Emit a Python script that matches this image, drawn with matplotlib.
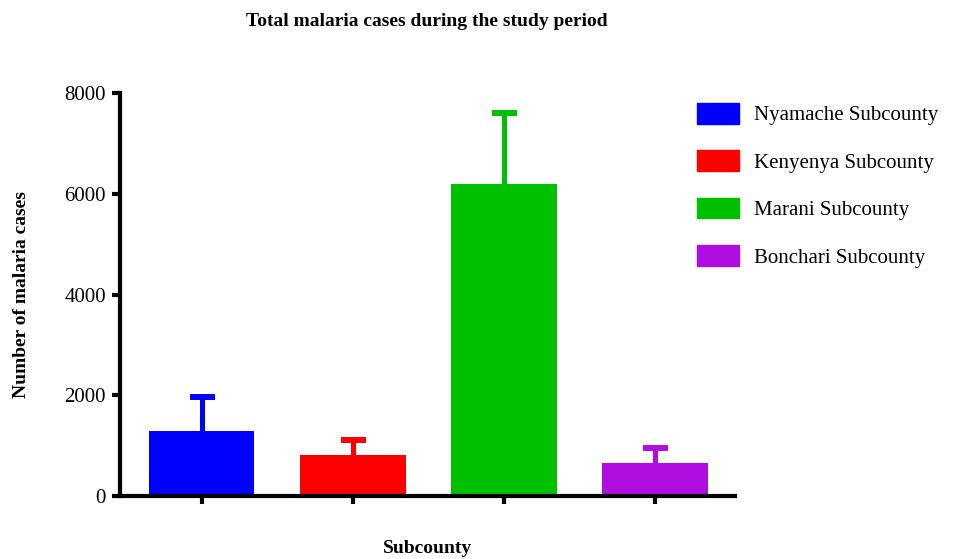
import matplotlib
matplotlib.use("Agg")
import matplotlib.pyplot as plt
import numpy as np

categories = ["Nyamache Subcounty", "Kenyenya Subcounty", "Marani Subcounty", "Bonchari Subcounty"]
means = [1300, 820, 6200, 660]
errors = [670, 290, 1410, 290]
colors = ["#0000FF", "#FF0000", "#00C000", "#B00EE0"]
yticks = [0, 2000, 4000, 6000, 8000]

plt.rcParams['font.family'] = ['Liberation Serif', 'DejaVu Serif']

fig = plt.figure(figsize=(9.74, 5.59), dpi=100)
ax = fig.add_axes([120/974, 1-496/559, (735-120)/974, (496-93)/559])

x = np.arange(len(categories))
bars = ax.bar(x, means, width=0.7, color=colors, label=categories, zorder=2)
for xi, m, e, c in zip(x, means, errors, colors):
    eb = ax.errorbar(xi, m, yerr=[[0], [e]], color=c, elinewidth=3.6, capsize=9, capthick=4.3, zorder=1)
    caps = eb[1]
    if len(caps) > 1:
        caps[0].set_visible(False)

ax.set_xlim(-0.54, 3.53)
ax.set_ylim(0, 8000)
ax.set_yticks(yticks)
ax.set_yticklabels([str(v) for v in yticks], fontsize=15)
ax.set_xticks(x)
ax.set_xticklabels([])
for s in ["top", "right"]:
    ax.spines[s].set_visible(False)
for s in ["left", "bottom"]:
    ax.spines[s].set_linewidth(3)
ax.tick_params(axis='both', direction='out', length=6, width=3, pad=4)

ax.set_ylabel("Number of malaria cases", fontsize=14, fontweight='bold')
ax.yaxis.set_label_coords(-0.146, 0.5)
ax.set_xlabel("Subcounty", fontsize=14, fontweight='bold', va='center')
ax.xaxis.set_label_coords(0.5, -0.131)
fig.text(427/974, 1-22/559, "Total malaria cases during the study period", fontsize=14,
         fontweight='bold', ha='center', va='center')

handles = [plt.Rectangle((0, 0), 1, 1, color=c) for c in colors]
fig.legend(handles, categories, loc='upper left', bbox_to_anchor=(697/974, 1-103/559),
           frameon=False, fontsize=15, handlelength=2.0, handleheight=1.15,
           labelspacing=1.2, handletextpad=0.75, borderaxespad=0, borderpad=0)

fig.savefig("out.png", dpi=100)
